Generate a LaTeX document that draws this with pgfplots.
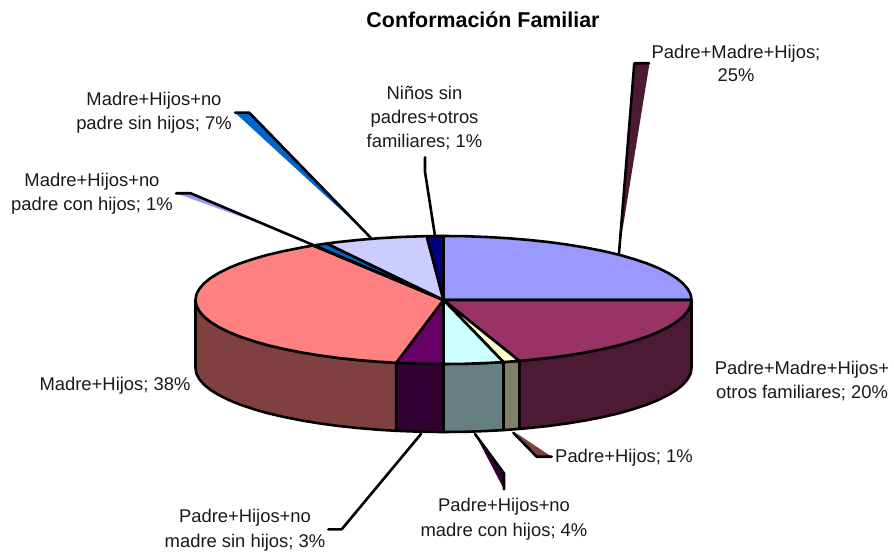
\documentclass[border=0pt]{standalone}
\usepackage{pgfplots}
\pgfplotsset{compat=1.18}
\usepackage{fontspec}
\setmainfont{Liberation Sans}
\definecolor{cA}{HTML}{9999FF}
\definecolor{cB}{HTML}{993366}
\definecolor{cC}{HTML}{FFFFCC}
\definecolor{cD}{HTML}{CCFFFF}
\definecolor{cE}{HTML}{660066}
\definecolor{cF}{HTML}{FF8080}
\definecolor{cG}{HTML}{0066CC}
\definecolor{cH}{HTML}{CCCCFF}
\definecolor{cI}{HTML}{000080}
\definecolor{sB}{HTML}{4D1A33}
\definecolor{sC}{HTML}{808066}
\definecolor{sD}{HTML}{668080}
\definecolor{sE}{HTML}{330033}
\definecolor{sF}{HTML}{804040}
\tikzset{lab/.style={anchor=base, font=\fontsize{18.4}{22}\selectfont, text=black!90, inner sep=0pt}}
\begin{document}
\begin{tikzpicture}
\useasboundingbox (0,0) rectangle (894pt,556pt);
\begin{axis}[
  at={(0,0)}, anchor=south west,
  scale only axis, width=894pt, height=556pt,
  xmin=0, xmax=894, ymin=0, ymax=556, y dir=reverse,
  hide axis, clip=false, no marks,
  cycle list={{black}},
  every axis plot/.append style={line width=2.6pt, line join=round, line cap=round, draw=black},
]
% sides
\addplot[fill=sB] coordinates {(691.5,300)(691.5,368)(690.6,373.6)(687.7,379.1)(683.0,384.6)(676.5,389.9)(668.3,395.0)(658.3,400)(646.7,404.7)(633.5,409.1)(618.9,413.3)(602.9,417.0)(585.8,420.4)(567.5,423.4)(548.3,426.0)(528.3,428.1)(519.3,428.9)(519.3,360.9)(528.3,360.1)(548.3,358.0)(567.5,355.4)(585.8,352.4)(602.9,349.0)(618.9,345.3)(633.5,341.1)(646.7,336.7)(658.3,332)(668.3,327.0)(676.5,321.9)(683.0,316.6)(687.7,311.1)(690.6,305.6)(691.5,300)};
\addplot[fill=sC] coordinates {(519.3,360.9)(519.3,428.9)(503.5,430.1)(503.5,362.1)(519.3,360.9)};
\addplot[fill=sD] coordinates {(503.5,362.1)(503.5,430.1)(486.6,431.0)(465.1,431.8)(443.5,432)(443.5,364)(465.1,363.8)(486.6,363.0)(503.5,362.1)};
\addplot[fill=sE] coordinates {(443.5,364)(443.5,432)(421.9,431.8)(396.2,430.8)(396.2,362.8)(421.9,363.8)(443.5,364)};
\addplot[fill=sF] coordinates {(396.2,362.8)(396.2,430.8)(379.3,429.8)(358.7,428.1)(338.7,426.0)(319.5,423.4)(301.2,420.4)(284.1,417.0)(268.1,413.3)(253.5,409.1)(240.3,404.7)(228.7,400)(218.7,395.0)(210.5,389.9)(204.0,384.6)(199.3,379.1)(196.4,373.6)(195.5,368)(195.5,300)(196.4,305.6)(199.3,311.1)(204.0,316.6)(210.5,321.9)(218.7,327.0)(228.7,332)(240.3,336.7)(253.5,341.1)(268.1,345.3)(284.1,349.0)(301.2,352.4)(319.5,355.4)(338.7,358.0)(358.7,360.1)(379.3,361.8)(396.2,362.8)};
% wedge-shaped leaders behind the pie
\addplot[fill=cA, draw=none] coordinates {(176,193.3)(190.7,193.3)(275,229)(176,193.3)};
\addplot[fill=cG, draw=none] coordinates {(235,112.7)(249.3,112.7)(365,232)(235,112.7)};
\addplot[fill=sB, draw=none] coordinates {(634.3,63.3)(649.5,63.3)(620,245)(634.3,63.3)};
\addplot[fill=sF, draw=none] coordinates {(516,433)(536.7,456.7)(551.7,456.7)(516,433)};
\addplot[fill=sE, draw=none] coordinates {(475,434)(504,473.3)(504,489.3)(475,434)};
% top faces
\addplot[fill=cA] coordinates {(443.5,300)(443.5,236)(465.1,236.2)(486.6,237.0)(507.7,238.2)(528.3,239.9)(548.3,242.0)(567.5,244.6)(585.8,247.6)(602.9,251.0)(618.9,254.7)(633.5,258.9)(646.7,263.3)(658.3,268)(668.3,273)(676.5,278.1)(683,283.4)(687.7,288.9)(690.6,294.4)(691.5,300)(443.5,300)};
\addplot[fill=cB] coordinates {(443.5,300)(691.5,300)(690.6,305.6)(687.7,311.1)(683.0,316.6)(676.5,321.9)(668.3,327.0)(658.3,332)(646.7,336.7)(633.5,341.1)(618.9,345.3)(602.9,349.0)(585.8,352.4)(567.5,355.4)(548.3,358.0)(528.3,360.1)(519.3,360.9)(443.5,300)};
\addplot[fill=cC] coordinates {(443.5,300)(519.3,360.9)(503.5,362.1)(443.5,300)};
\addplot[fill=cD] coordinates {(443.5,300)(503.5,362.1)(486.6,363.0)(465.1,363.8)(443.5,364)(443.5,300)};
\addplot[fill=cE] coordinates {(443.5,300)(443.5,364)(421.9,363.8)(396.2,362.8)(443.5,300)};
\addplot[fill=cF] coordinates {(443.5,300)(396.2,362.8)(379.3,361.8)(358.7,360.1)(338.7,358.0)(319.5,355.4)(301.2,352.4)(284.1,349.0)(268.1,345.3)(253.5,341.1)(240.3,336.7)(228.7,332)(218.7,327.0)(210.5,321.9)(204.0,316.6)(199.3,311.1)(196.4,305.6)(195.5,300)(196.4,294.4)(199.3,288.9)(204.0,283.4)(210.5,278.1)(218.7,273.0)(228.7,268)(240.3,263.3)(253.5,258.9)(268.1,254.7)(284.1,251.0)(301.2,247.6)(313.2,245.5)(443.5,300)};
\addplot[fill=cG] coordinates {(443.5,300)(313.2,245.5)(326.7,243.5)(443.5,300)};
\addplot[fill=cH] coordinates {(443.5,300)(326.7,243.5)(338.7,242.0)(358.7,239.9)(379.3,238.2)(400.4,237.0)(426.7,236.1)(443.5,300)};
\addplot[fill=cI] coordinates {(443.5,300)(426.7,236.1)(443.5,236)(443.5,300)};
% leader lines
\addplot[black] coordinates {(619,253.3)(634.3,63.3)(649,63.3)};
\addplot[black] coordinates {(370.7,237.7)(249.3,112.7)(235,112.7)};
\addplot[black] coordinates {(443.5,300)(190.7,193.3)(176,193.3)};
\addplot[black] coordinates {(435,236)(425,171.7)(425,157.3)};
\addplot[black] coordinates {(513.3,432.7)(536.7,456.7)(551.7,456.7)};
\addplot[black] coordinates {(475,434)(504,473.3)(504,489.3)};
\addplot[black] coordinates {(421,434)(341.7,529.3)(328.3,529.3)};
% labels
\node[anchor=base, font=\fontsize{21.4}{26}\bfseries\selectfont, inner sep=0pt] at (axis cs:483,28) {Conformación Familiar};
\node[lab] at (axis cs:736,59) {Padre+Madre+Hijos;};
\node[lab] at (axis cs:736,82) {25\%};
\node[lab] at (axis cs:424.5,100) {Niños sin};
\node[lab] at (axis cs:424.5,124) {padres+otros};
\node[lab] at (axis cs:424.5,148) {familiares; 1\%};
\node[lab] at (axis cs:154,106) {Madre+Hijos+no};
\node[lab] at (axis cs:154,130) {padre sin hijos; 7\%};
\node[lab] at (axis cs:92,187) {Madre+Hijos+no};
\node[lab] at (axis cs:92,211) {padre con hijos; 1\%};
\node[lab] at (axis cs:802,374) {Padre+Madre+Hijos+};
\node[lab] at (axis cs:802,398) {otros familiares; 20\%};
\node[lab] at (axis cs:115,390) {Madre+Hijos; 38\%};
\node[lab] at (axis cs:624,462) {Padre+Hijos; 1\%};
\node[lab] at (axis cs:504,511) {Padre+Hijos+no};
\node[lab] at (axis cs:504,536) {madre con hijos; 4\%};
\node[lab] at (axis cs:245,522) {Padre+Hijos+no};
\node[lab] at (axis cs:245,547) {madre sin hijos; 3\%};
\end{axis}
\end{tikzpicture}
\end{document}
